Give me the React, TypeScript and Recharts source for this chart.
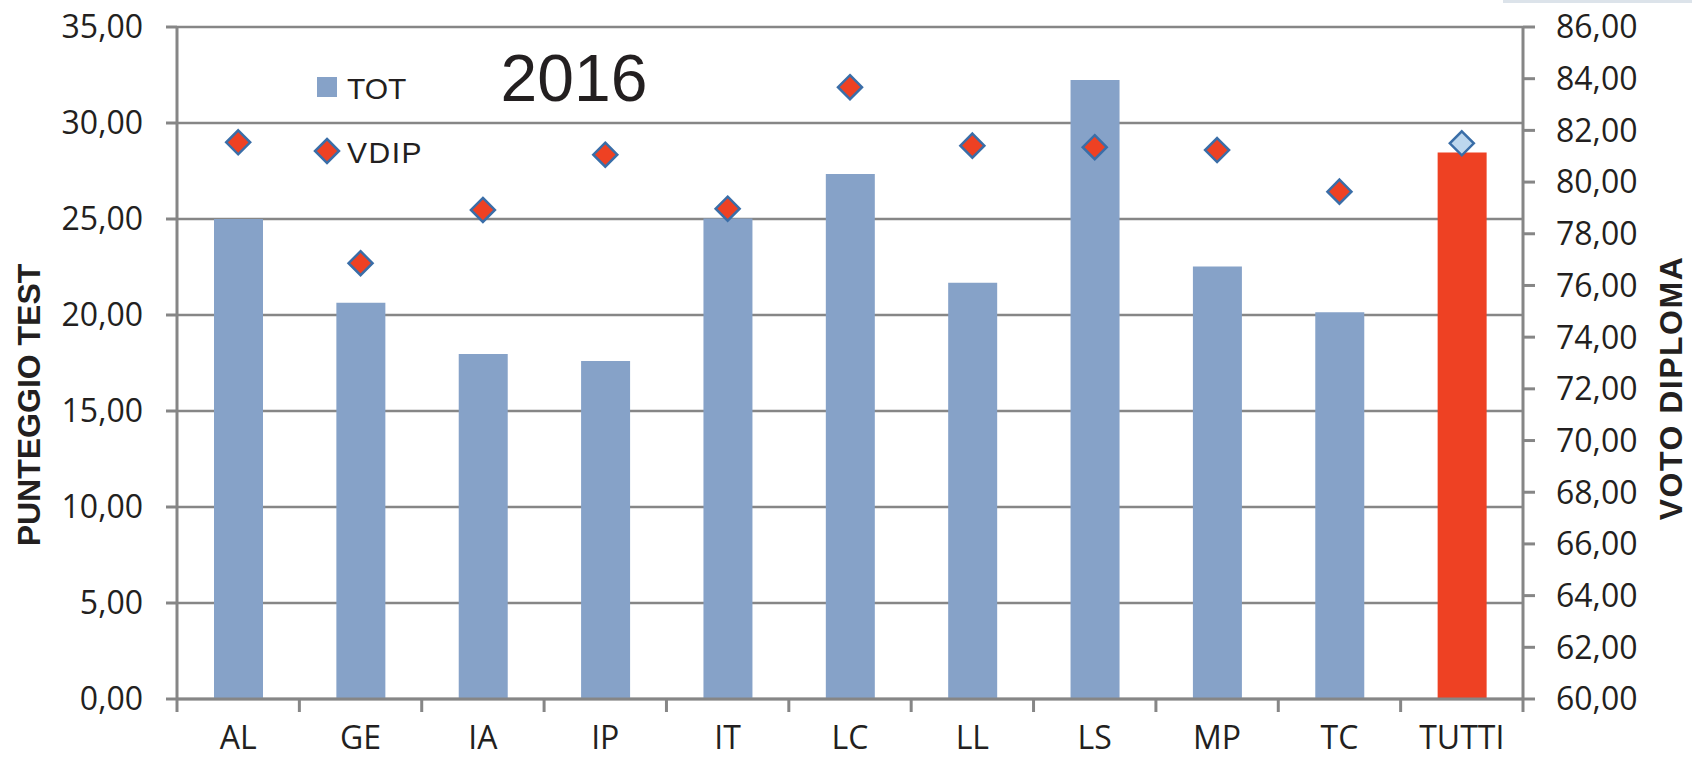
import React from 'react';
import { ComposedChart, Bar, Line, XAxis, YAxis, CartesianGrid, Cell } from 'recharts';

const categories = ['AL', 'GE', 'IA', 'IP', 'IT', 'LC', 'LL', 'LS', 'MP', 'TC', 'TUTTI'];
const totValues = [25.0, 20.64, 17.97, 17.6, 25.02, 27.34, 21.68, 32.24, 22.52, 20.14, 28.47];
const vdipValues = [81.54, 76.86, 78.92, 81.06, 78.97, 83.67, 81.41, 81.35, 81.24, 79.63, 81.5];
const leftTicks = [0, 5, 10, 15, 20, 25, 30, 35];
const rightTicks = [60, 62, 64, 66, 68, 70, 72, 74, 76, 78, 80, 82, 84, 86];
const highlight = 'TUTTI';
const chartTitle = '2016';
const seriesNames = ['TOT', 'VDIP'];
const axisTitles = ['PUNTEGGIO TEST', 'VOTO DIPLOMA'];

const data = categories.map((c, i) => ({ cat: c, tot: totValues[i], vdip: vdipValues[i] }));

const W = 1692;
const H = 760;
const PLOT_LEFT = 177;
const PLOT_RIGHT = 1523;
const BAND = (PLOT_RIGHT - PLOT_LEFT) / categories.length;
const GRAY = '#868686';
const BAR_BLUE = '#86A2C8';
const RED = '#EE4123';
const MARK_STROKE = '#3A6EA8';
const LIGHT_BLUE = '#BDD7EE';
const TEXT = '#231F20';
const TICK_FONT = '"Open Sans", "Noto Sans", sans-serif';
const ARIAL = '"Liberation Sans", Arial, sans-serif';

const fmt = (v: number) => v.toFixed(2).replace('.', ',');

const XTick = (props: any) => {
  const { x, y, payload, index } = props;
  const left = x - BAND / 2;
  return (
    <g>
      <line x1={left} x2={left} y1={y} y2={y + 13} stroke={GRAY} strokeWidth={3} />
      {index === categories.length - 1 && (
        <line x1={x + BAND / 2} x2={x + BAND / 2} y1={y} y2={y + 13} stroke={GRAY} strokeWidth={3} />
      )}
      <text x={x} y={y + 50} textAnchor="middle" fontFamily={TICK_FONT} fontSize={32} fill={TEXT}>
        {payload.value}
      </text>
    </g>
  );
};

const Diamond = (props: any) => {
  const { cx, cy, payload, index } = props;
  if (cx == null || cy == null) return <g key={index} />;
  const r = 12;
  const fill = payload && payload.cat === highlight ? LIGHT_BLUE : RED;
  return (
    <path
      key={index}
      d={`M${cx},${cy - r} L${cx + r},${cy} L${cx},${cy + r} L${cx - r},${cy} Z`}
      fill={fill}
      stroke={MARK_STROKE}
      strokeWidth={2.5}
    />
  );
};

export default function App() {
  return (
    <div style={{ position: 'absolute', left: 0, top: 0, width: W, height: H, background: '#fff' }}>
      <div style={{ position: 'absolute', left: 1503, top: 0, width: 189, height: 3, background: '#DCE3EA' }} />
      <ComposedChart
        width={W}
        height={H}
        data={data}
        margin={{ top: 27, right: 0, left: 0, bottom: 0 }}
      >
        <CartesianGrid yAxisId="left" horizontal vertical={false} stroke={GRAY} strokeWidth={2.5} />
        <XAxis
          dataKey="cat"
          height={61}
          axisLine={{ stroke: GRAY, strokeWidth: 3 }}
          tickLine={false}
          tickSize={0}
          tickMargin={0}
          interval={0}
          tick={<XTick />}
        />
        <YAxis
          yAxisId="left"
          width={PLOT_LEFT}
          domain={[0, 35]}
          ticks={leftTicks}
          tickFormatter={fmt}
          axisLine={{ stroke: GRAY, strokeWidth: 3 }}
          tickLine={{ stroke: GRAY, strokeWidth: 3 }}
          tickSize={11}
          tickMargin={23}
          tick={{ fontFamily: TICK_FONT, fontSize: 32, fill: TEXT }}
          interval={0}
          label={{
            content: () => (
              <text
                x={29}
                y={405}
                transform="rotate(-90, 29, 405)"
                textAnchor="middle"
                dominantBaseline="central"
                fontFamily={ARIAL}
                fontWeight="bold"
                fontSize={32}
                fill={TEXT}
              >
                {axisTitles[0]}
              </text>
            ),
          }}
        />
        <YAxis
          yAxisId="right"
          orientation="right"
          width={W - PLOT_RIGHT}
          domain={[60, 86]}
          ticks={rightTicks}
          tickFormatter={fmt}
          axisLine={{ stroke: GRAY, strokeWidth: 3 }}
          tickLine={{ stroke: GRAY, strokeWidth: 3 }}
          tickSize={12}
          tickMargin={21}
          tick={{ fontFamily: TICK_FONT, fontSize: 32, fill: TEXT }}
          interval={0}
          label={{
            content: () => (
              <text
                x={1671}
                y={388}
                transform="rotate(-90, 1671, 388)"
                textAnchor="middle"
                dominantBaseline="central"
                fontFamily={ARIAL}
                fontWeight="bold"
                fontSize={32}
                letterSpacing={1.5}
                fill={TEXT}
              >
                {axisTitles[1]}
              </text>
            ),
          }}
        />
        <Bar yAxisId="left" dataKey="tot" name={seriesNames[0]} barSize={49} isAnimationActive={false}>
          {data.map((d) => (
            <Cell key={d.cat} fill={d.cat === highlight ? RED : BAR_BLUE} />
          ))}
        </Bar>
        <Line
          yAxisId="right"
          dataKey="vdip"
          name={seriesNames[1]}
          stroke="none"
          strokeWidth={0}
          dot={<Diamond />}
          activeDot={false}
          isAnimationActive={false}
        />
      </ComposedChart>
      <svg
        width={160}
        height={110}
        style={{ position: 'absolute', left: 310, top: 70, overflow: 'visible' }}
      >
        <rect x={7} y={7} width={20} height={20} fill={BAR_BLUE} />
        <text x={37} y={29} fontFamily={ARIAL} fontSize={30} fill={TEXT}>{seriesNames[0]}</text>
        <path d="M17,69 L29,81 L17,93 L5,81 Z" fill={RED} stroke={MARK_STROKE} strokeWidth={2.5} />
        <text x={37} y={93} fontFamily={ARIAL} fontSize={30} letterSpacing={1.5} fill={TEXT}>{seriesNames[1]}</text>
        <text x={264} y={31} textAnchor="middle" fontFamily={ARIAL} fontSize={66} fill={TEXT}>{chartTitle}</text>
      </svg>
    </div>
  );
}
